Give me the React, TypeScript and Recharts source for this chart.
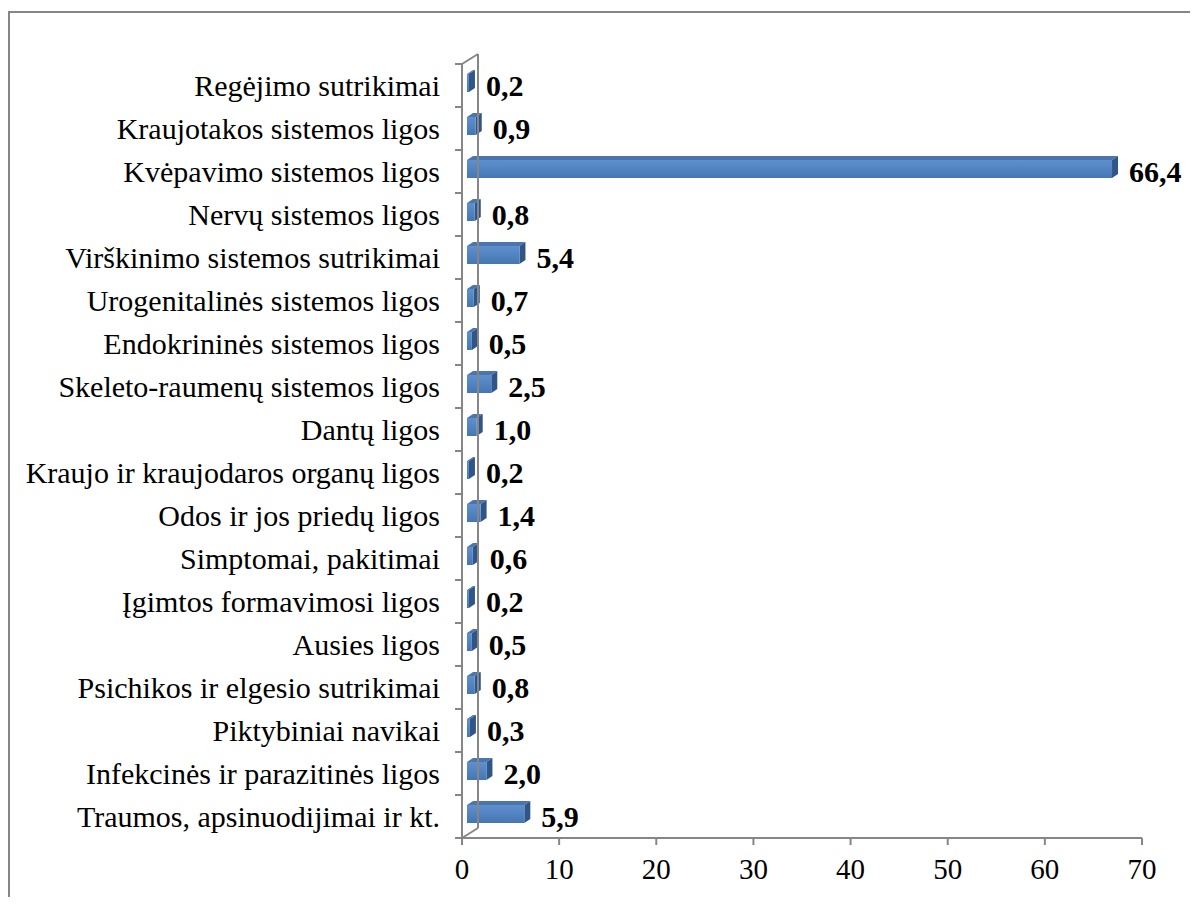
import { BarChart, Bar, XAxis, YAxis, LabelList } from 'recharts';

const categories = [
  'Regėjimo sutrikimai',
  'Kraujotakos sistemos ligos',
  'Kvėpavimo sistemos ligos',
  'Nervų sistemos ligos',
  'Virškinimo sistemos sutrikimai',
  'Urogenitalinės sistemos ligos',
  'Endokrininės sistemos ligos',
  'Skeleto-raumenų sistemos ligos',
  'Dantų ligos',
  'Kraujo ir kraujodaros organų ligos',
  'Odos ir jos priedų ligos',
  'Simptomai, pakitimai',
  'Įgimtos formavimosi ligos',
  'Ausies ligos',
  'Psichikos ir elgesio sutrikimai',
  'Piktybiniai navikai',
  'Infekcinės ir parazitinės ligos',
  'Traumos, apsinuodijimai ir kt.',
];

const values = [0.2, 0.9, 66.4, 0.8, 5.4, 0.7, 0.5, 2.5, 1.0, 0.2, 1.4, 0.6, 0.2, 0.5, 0.8, 0.3, 2.0, 5.9];

const xTicks = [0, 10, 20, 30, 40, 50, 60, 70];

const data = categories.map((name, i) => ({ name, value: values[i] }));

const W = 1188;
const H = 884;
const M = { top: 51, right: 56, left: 0, bottom: 0 };
const Y_W = 452;
const X_H = 59;
const plotL = M.left + Y_W;
const plotT = M.top;
const plotB = H - M.bottom - X_H;
const band = (plotB - plotT) / categories.length;

const FONT = '"Liberation Serif", "Times New Roman", serif';
const GREY = '#868686';

// bar depth (pseudo 3D)
const SHIFT_X = 5;
const SHIFT_Y = -3;
const DEPTH_X = 6;
const DEPTH_Y = -4;

const Bar3D = (props: any) => {
  const { x, y, width, height } = props;
  const x0 = x + SHIFT_X;
  const y0 = y + SHIFT_Y;
  const x1 = x0 + width;
  const y1 = y0 + height;
  return (
    <g>
      <polygon
        points={`${x0},${y0} ${x0 + DEPTH_X},${y0 + DEPTH_Y} ${x1 + DEPTH_X},${y0 + DEPTH_Y} ${x1},${y0}`}
        fill="#4a76ad"
      />
      <polygon
        points={`${x1},${y0} ${x1 + DEPTH_X},${y0 + DEPTH_Y} ${x1 + DEPTH_X},${y1 + DEPTH_Y} ${x1},${y1}`}
        fill="#2f5686"
      />
      <rect x={x0} y={y0} width={width} height={height} fill="url(#frontGrad)" />
    </g>
  );
};

const ValueLabel = (props: any) => {
  const { x, y, width, height, value } = props;
  return (
    <text
      x={x + width + SHIFT_X + DEPTH_X + 11}
      y={y + height / 2 - 1}
      dy="0.35em"
      fontFamily={FONT}
      fontSize={30}
      fontWeight="bold"
      fill="#000"
    >
      {Number(value).toFixed(1).replace('.', ',')}
    </text>
  );
};

const CatTick = (props: any) => {
  const { x, y, payload } = props;
  return (
    <text x={x} y={y} dy="0.35em" textAnchor="end" fontFamily={FONT} fontSize={30} fill="#000">
      {payload.value}
    </text>
  );
};

const WallDecor = () => {
  const dx = 16;
  const dy = -10;
  return (
    <svg width={W} height={H} style={{ position: 'absolute', left: 0, top: 0, pointerEvents: 'none' }}>
      <g stroke={GREY} strokeWidth={2} fill="none">
        <line x1={plotL} y1={plotT} x2={plotL + dx} y2={plotT + dy} />
        <line x1={plotL + dx} y1={plotT + dy} x2={plotL + dx} y2={plotB + dy} />
        <line x1={plotL} y1={plotB} x2={plotL + dx} y2={plotB + dy} />
        {categories.map((_, i) => (
          <line key={i} x1={plotL - 7} y1={plotT + i * band} x2={plotL} y2={plotT + i * band} />
        ))}
        <line x1={plotL - 7} y1={plotB} x2={plotL} y2={plotB} />
      </g>
    </svg>
  );
};

export default function App() {
  return (
    <div
      style={{
        position: 'relative',
        marginTop: 3,
        width: W,
        height: H,
        borderTop: `2px solid ${GREY}`,
        borderLeft: `2px solid ${GREY}`,
        background: '#fff',
      }}
    >
      <BarChart width={W} height={H} data={data} layout="vertical" margin={M}>
        <defs>
          <linearGradient id="frontGrad" x1="0" y1="0" x2="0" y2="1">
            <stop offset="0%" stopColor="#5f90cd" />
            <stop offset="45%" stopColor="#5285c2" />
            <stop offset="100%" stopColor="#4676b2" />
          </linearGradient>
        </defs>
        <XAxis
          type="number"
          domain={[0, 70]}
          ticks={xTicks}
          height={X_H}
          axisLine={{ stroke: GREY, strokeWidth: 2 }}
          tickLine={{ stroke: GREY, strokeWidth: 2 }}
          tickSize={7}
          tickMargin={13}
          tick={{ fontFamily: FONT, fontSize: 29, fill: '#000' }}
        />
        <YAxis
          type="category"
          dataKey="name"
          width={Y_W}
          axisLine={{ stroke: GREY, strokeWidth: 2 }}
          tickLine={false}
          tickSize={7}
          tickMargin={15}
          interval={0}
          tick={<CatTick />}
        />
        <Bar dataKey="value" barSize={18} shape={<Bar3D />} isAnimationActive={false}>
          <LabelList dataKey="value" content={<ValueLabel />} />
        </Bar>
      </BarChart>
      <WallDecor />
    </div>
  );
}
